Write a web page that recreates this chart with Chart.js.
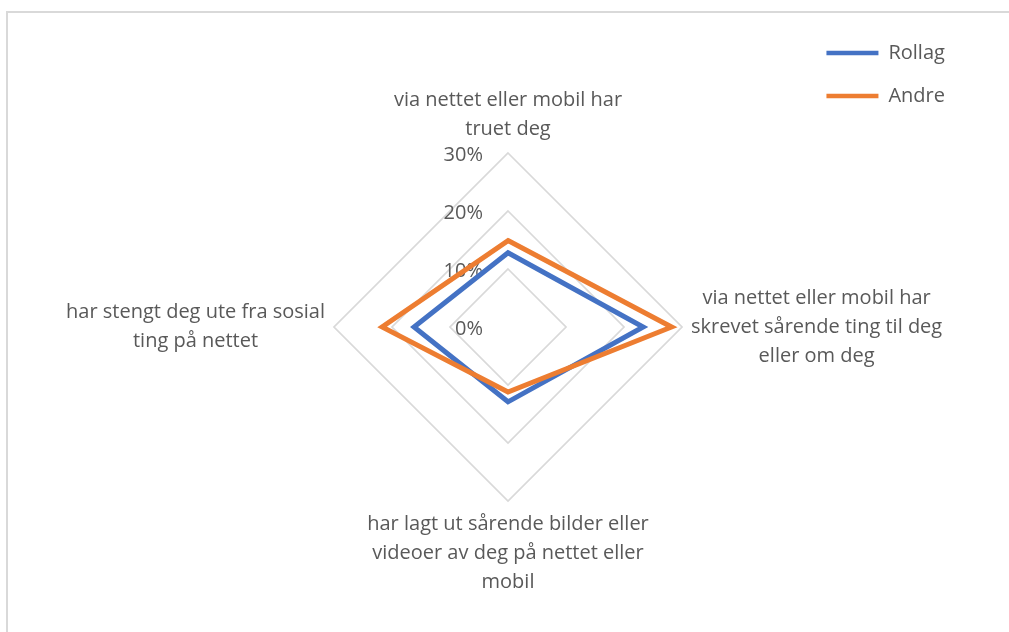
<!DOCTYPE html>
<html>
<head>
<meta charset="utf-8">
<script src="https://cdn.jsdelivr.net/npm/chart.js@4"></script>
<style>
  html, body { margin: 0; padding: 0; background: #fff; }
  #wrap { position: relative; width: 1009px; height: 632px; overflow: hidden; }
  #frame { position: absolute; left: 6px; top: 11px; width: 1010px; height: 630px; border: 2px solid #d9d9d9; box-sizing: border-box; }
  canvas { position: absolute; left: 0; top: 0; }
</style>
</head>
<body>
<div id="wrap">
  <div id="frame"></div>
  <canvas id="radar" width="1009" height="632"></canvas>
</div>
<script>
// categories, clockwise from the top
const categories = [
  ["via nettet eller mobil har", "truet deg"],
  ["via nettet eller mobil har", "skrevet sårende ting til deg", "eller om deg"],
  ["har lagt ut sårende bilder eller", "videoer av deg på nettet eller", "mobil"],
  ["har stengt deg ute fra sosial", "ting på nettet"]
];
// share in percent
const rollag = [12.8, 23.3, 12.9, 16.2];
const andre = [14.9, 28.2, 11.2, 21.7];
const tickLabels = ["0%", "10%", "20%", "30%"];

const TEXT = '#595959';
const FONT = '20px "Open Sans"';

// Excel style labels: ticks left of the axis, category text centred per block
const excelLabels = {
  id: 'excelLabels',
  beforeDatasetsDraw(chart) {
    const scale = chart.scales.r;
    const ctx = chart.ctx;
    ctx.save();
    ctx.font = FONT;
    ctx.fillStyle = TEXT;
    ctx.textAlign = 'right';
    ctx.textBaseline = 'middle';
    scale.ticks.forEach((t, i) => {
      const d = scale.getDistanceFromCenterForValue(t.value);
      ctx.fillText(tickLabels[i], scale.xCenter - 25, scale.yCenter - d + 2);
    });

    ctx.textAlign = 'center';
    const lh = 29;
    chart.data.labels.forEach((lines, i) => {
      const p = scale.getPointPosition(i, scale.drawingArea + 9);
      const dx = p.x - scale.xCenter;
      const dy = p.y - scale.yCenter;
      const w = Math.max(...lines.map(l => ctx.measureText(l).width));
      const h = lines.length * lh;
      let cx = p.x;
      if (dx > 1) cx = p.x + w / 2;
      else if (dx < -1) cx = p.x - w / 2;
      let top = p.y - h / 2;
      if (dy < -1) top = p.y - h;
      else if (dy > 1) top = p.y;
      lines.forEach((l, k) => ctx.fillText(l, cx, top + lh * (k + 0.5)));
    });
    ctx.restore();
  }
};

Chart.defaults.font.family = 'Open Sans';
Chart.defaults.font.size = 20;
Chart.defaults.color = TEXT;

new Chart(document.getElementById('radar'), {
  type: 'radar',
  data: {
    labels: categories,
    datasets: [
      { label: 'Rollag', data: rollag, borderColor: '#4472C4', backgroundColor: '#4472C4', order: 1 },
      { label: 'Andre', data: andre, borderColor: '#ED7D31', backgroundColor: '#ED7D31', order: 0 }
    ]
  },
  options: {
    responsive: false,
    animation: false,
    layout: { padding: { top: 20, right: 54, left: 10, bottom: 10 } },
    elements: {
      line: { borderWidth: 5, tension: 0, fill: false, borderCapStyle: 'round', borderJoinStyle: 'miter' },
      point: { radius: 0, hoverRadius: 0, borderWidth: 4.5 }
    },
    plugins: {
      legend: {
        position: 'right',
        align: 'start',
        labels: {
          usePointStyle: true,
          pointStyle: 'line',
          pointStyleWidth: 52,
          padding: 23,
          color: TEXT,
          font: { size: 20 },
          sort: (a, b) => a.datasetIndex - b.datasetIndex
        }
      },
      tooltip: { enabled: false }
    },
    scales: {
      r: {
        min: 0,
        max: 30,
        ticks: { stepSize: 10, display: false },
        grid: { color: '#d9d9d9', lineWidth: 1.75, circular: false },
        angleLines: { display: false },
        pointLabels: { display: false },
        // place the web like the original plot area
        afterFit: (scale) => {
          scale.xCenter = 508;
          scale.yCenter = 327;
          scale.drawingArea = 174;
        }
      }
    }
  },
  plugins: [excelLabels]
});
</script>
</body>
</html>
